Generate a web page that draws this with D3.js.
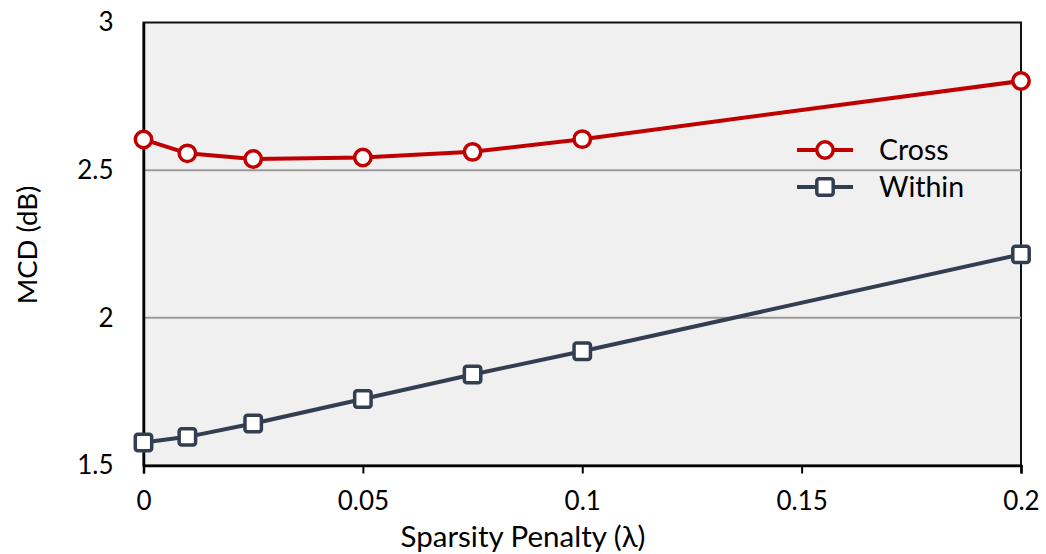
<!DOCTYPE html>
<html>
<head>
<meta charset="utf-8">
<script src="https://cdn.jsdelivr.net/npm/d3@7"></script>
<style>
  html, body { margin: 0; padding: 0; background: #fff; }
  svg { display: block; font-family: Lato, "Open Sans", sans-serif; }
</style>
</head>
<body>
<svg id="chart" width="1046" height="554"></svg>
<script>
// Sparsity penalty values (x) and MCD results for the two conditions
const lambdas = [0, 0.01, 0.025, 0.05, 0.075, 0.1, 0.2];
const crossMCD = [2.604, 2.557, 2.538, 2.543, 2.562, 2.605, 2.802];
const withinMCD = [1.578, 1.597, 1.642, 1.725, 1.808, 1.887, 2.215];
const xTicks = [0, 0.05, 0.1, 0.15, 0.2];
const yTicks = [1.5, 2, 2.5, 3];
const seriesNames = ["Cross", "Within"];

const svg = d3.select("#chart");
const plot = { left: 143.5, right: 1021, top: 22.5, bottom: 465.5 };

const x = d3.scaleLinear().domain([0, 0.2]).range([plot.left, plot.right]);
const y = d3.scaleLinear().domain([1.5, 3]).range([plot.bottom, plot.top]);

// plot background and frame
svg.append("rect")
  .attr("x", plot.left).attr("y", plot.top)
  .attr("width", plot.right - plot.left).attr("height", plot.bottom - plot.top)
  .attr("fill", "#f0f0f0")
  .attr("stroke", "#111").attr("stroke-width", 2);

// horizontal gridlines
svg.append("g").selectAll("line")
  .data(yTicks.filter(d => d > 1.5 && d < 3))
  .join("line")
  .attr("x1", plot.left).attr("x2", plot.right)
  .attr("y1", d => y(d)).attr("y2", d => y(d))
  .attr("stroke", "#9a9a9a").attr("stroke-width", 2);

// x axis
const xAxis = svg.append("g")
  .attr("transform", `translate(0,${plot.bottom})`)
  .call(d3.axisBottom(x).tickValues(xTicks).tickSize(8).tickPadding(18)
        .tickFormat(d => d3.format("")(+d.toFixed(2))));
xAxis.select(".domain").attr("stroke", "#000").attr("stroke-width", 2.5);
xAxis.selectAll(".tick line").attr("stroke", "#000").attr("stroke-width", 2);
xAxis.selectAll(".tick text").attr("font-size", 26).attr("fill", "#000")
  .attr("font-family", "Lato, sans-serif");

// y axis
const yAxis = svg.append("g")
  .attr("transform", `translate(${plot.left},0)`)
  .call(d3.axisLeft(y).tickValues(yTicks).tickSize(0).tickPadding(30)
        .tickFormat(d => String(d)));
yAxis.select(".domain").attr("stroke", "#000").attr("stroke-width", 2.5);
yAxis.selectAll(".tick text").attr("font-size", 26).attr("fill", "#000")
  .attr("font-family", "Lato, sans-serif");

// axis titles
svg.append("text")
  .attr("x", 523).attr("y", 547)
  .attr("text-anchor", "middle").attr("font-size", 29.5).attr("fill", "#000")
  .text("Sparsity Penalty (λ)");
svg.append("text")
  .attr("transform", `translate(37,245) rotate(-90)`)
  .attr("text-anchor", "middle").attr("font-size", 27.5).attr("fill", "#000")
  .text("MCD (dB)");

const series = [
  { name: seriesNames[0], values: crossMCD, color: "#c00000", shape: "circle" },
  { name: seriesNames[1], values: withinMCD, color: "#333f50", shape: "square" }
];

const line = d3.line().x(d => x(d[0])).y(d => y(d[1]));

function drawMarker(g, shape, color) {
  if (shape === "circle") {
    g.append("circle").attr("r", 8.2)
      .attr("fill", "#fff").attr("stroke", color).attr("stroke-width", 3.5);
  } else {
    g.append("rect").attr("x", -8.2).attr("y", -8.2)
      .attr("width", 16.4).attr("height", 16.4).attr("rx", 2.5)
      .attr("fill", "#fff").attr("stroke", color).attr("stroke-width", 3.5);
  }
}

series.forEach(s => {
  const pts = lambdas.map((l, i) => [l, s.values[i]]);
  svg.append("path").datum(pts)
    .attr("d", line).attr("fill", "none")
    .attr("stroke", s.color).attr("stroke-width", 4)
    .attr("stroke-linejoin", "round");
  svg.append("g").selectAll("g").data(pts).join("g")
    .attr("transform", d => `translate(${x(d[0])},${y(d[1])})`)
    .each(function() { drawMarker(d3.select(this), s.shape, s.color); });
});

// legend
const legend = svg.append("g").attr("transform", "translate(797,150)");
series.forEach((s, i) => {
  const g = legend.append("g").attr("transform", `translate(0,${i * 37})`);
  g.append("line").attr("x1", 0).attr("x2", 56).attr("y1", 0).attr("y2", 0)
    .attr("stroke", s.color).attr("stroke-width", 4);
  const m = g.append("g").attr("transform", "translate(28,0)");
  drawMarker(m, s.shape, s.color);
  g.append("text").attr("x", 82).attr("y", 0).attr("dy", "0.35em")
    .attr("font-size", 28.5).attr("fill", "#000").text(s.name);
});
</script>
</body>
</html>
